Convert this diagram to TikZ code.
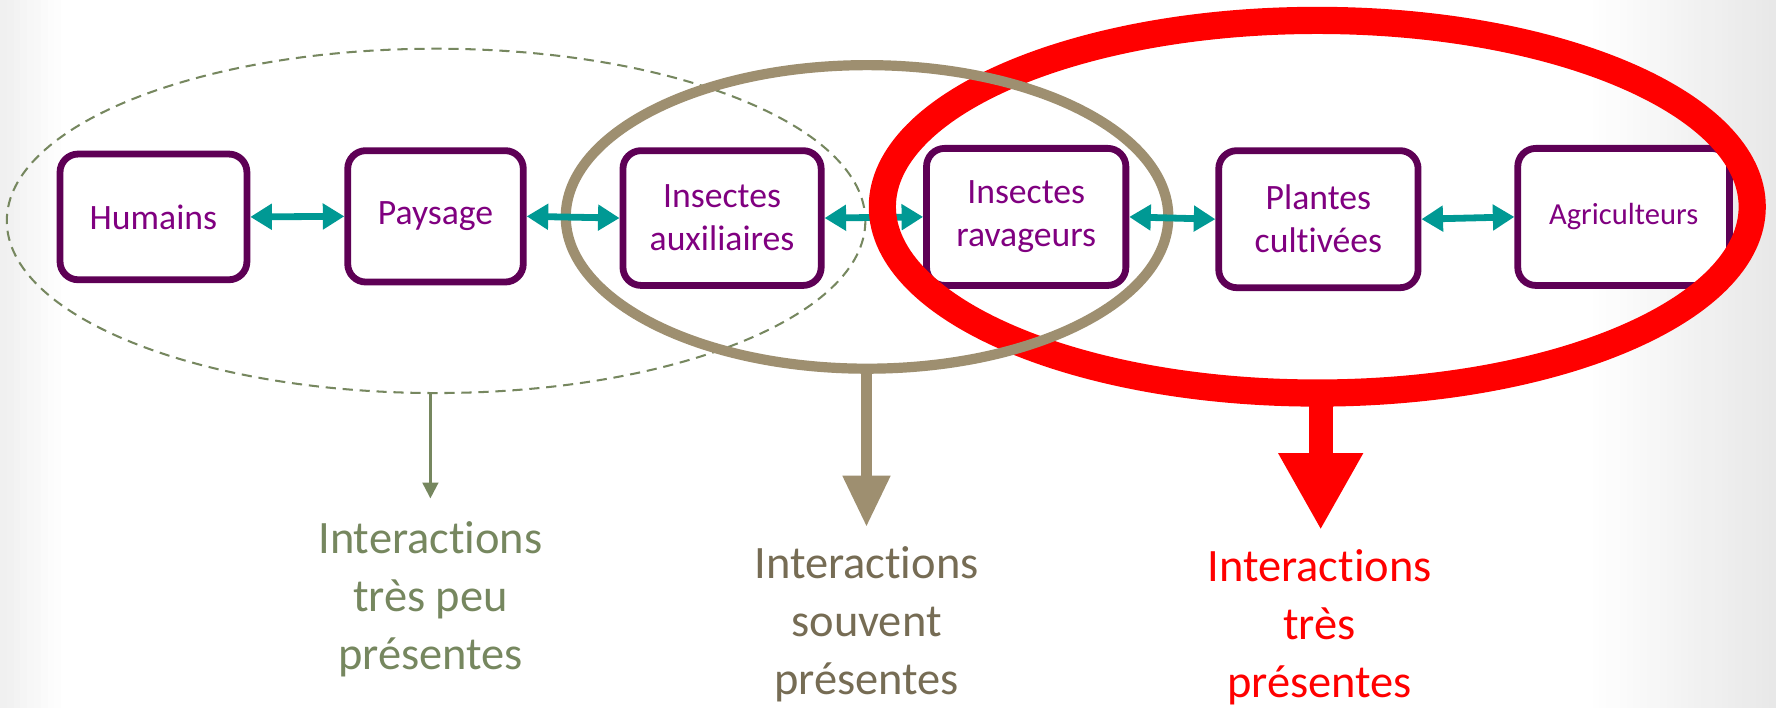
\documentclass[tikz,border=0pt]{standalone}
\usepackage{fontspec}
\setmainfont{Carlito}[Ligatures={NoCommon}]
\usetikzlibrary{arrows.meta}
\definecolor{boxc}{RGB}{94,0,85}
\definecolor{boxtext}{RGB}{128,0,128}
\definecolor{tealc}{RGB}{0,153,148}
\definecolor{greenc}{RGB}{118,135,95}
\definecolor{tanc}{RGB}{158,143,112}
\definecolor{tantext}{RGB}{118,108,84}
\definecolor{redc}{RGB}{255,0,0}
\begin{document}
\begin{tikzpicture}[x=1pt,y=-1pt,
  box/.style={draw=boxc, line width=6pt, rounded corners=16pt, fill=white,
    text=boxtext, align=center, inner sep=0pt,
    font=\fontsize{31.5}{38}\selectfont},
  tealarrow/.style={draw=tealc, line width=6pt,
    {Triangle[width=22pt,length=19pt]}-{Triangle[width=22pt,length=19pt]}},
  bigtext/.style={align=center, font=\fontsize{41}{51}\selectfont, inner sep=0pt}
]
\useasboundingbox (0,0) rectangle (1568,625);
\fill[white] (0,0) rectangle (1568,625);
% soft grey edges of the slide background
\foreach \i in {0,...,27}{
  \pgfmathsetmacro{\p}{9*\i/27}
  \fill[black!\p] ({1400+6*\i},0) rectangle ({1406.5+6*\i},625);
}
\foreach \i in {0,...,9}{
  \pgfmathsetmacro{\p}{6*(9-\i)/9}
  \fill[black!\p] ({6*\i},0) rectangle ({6.5+6*\i},625);
}

% boxes
\node[box, minimum width=165pt, minimum height=111pt] (hum) at (135.5,191.5) {Humains};
\node[box, minimum width=155pt, minimum height=116pt] (pay) at (384.5,191) {Paysage};
\node[box, minimum width=175pt, minimum height=119pt] (aux) at (637.5,192.5) {Insectes\\auxiliaires};
\node[box, minimum width=176pt, minimum height=121pt] (rav) at (906,191.5) {Insectes\\ravageurs};
\node[box, minimum width=176pt, minimum height=121pt] (pla) at (1164,193.5) {Plantes\\cultivées};
\node[box, minimum width=187pt, minimum height=121pt, font=\fontsize{27}{33}\selectfont] (agr) at (1433.5,191.5) {Agriculteurs};

% dashed ellipse
\draw[greenc, line width=1.8pt, dash pattern=on 9pt off 6pt] (385,195) ellipse [x radius=379, y radius=152];

% connector lying under the red ring
\draw[tealarrow] (aux.east) -- (rav.west);

% red ring, then tan ring over it
\draw[redc, line width=24pt] (1163,182.5) ellipse [x radius=384, y radius=164.5];
\draw[tanc, line width=9pt] (765.5,191.5) ellipse [x radius=266, y radius=134];

% other teal connectors (over the tan ring)
\draw[tealarrow] (hum.east) -- (pay.west);
\draw[tealarrow] (pay.east) -- (aux.west);
\draw[tealarrow] (rav.east) -- (pla.west);
\draw[tealarrow] (pla.east) -- (agr.west);

% bottom arrows
\coordinate (gS) at (380,347);
\coordinate (gT) at (380,440);
\coordinate (tS) at (765,325);
\coordinate (tT) at (765,465);
\coordinate (rS) at (1166,346);
\coordinate (rT) at (1166,468);
\draw[greenc, line width=2pt, -{Triangle[width=14pt,length=14pt]}] (gS) -- (gT);
\draw[tanc, line width=9pt, -{Triangle[width=40pt,length=45pt]}] (tS) -- (tT);
\draw[redc, line width=21pt, -{Triangle[width=70pt,length=68pt]}] (rS) -- (rT);

% texts
\node[bigtext, text=greenc] (gtxt) at (380,529) {Interactions\\très peu\\présentes};
\node[bigtext, text=tantext] (ttxt) at (765,551) {Interactions\\souvent\\présentes};
\node[bigtext, text=redc] (rtxt) at (1165,554) {Interactions\\très\\présentes};
\end{tikzpicture}
\end{document}
